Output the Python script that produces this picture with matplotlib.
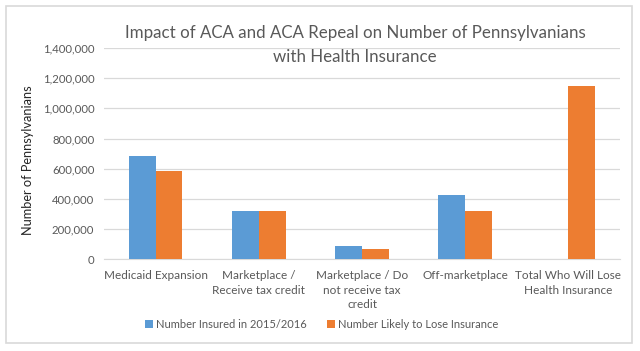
import matplotlib
matplotlib.use("Agg")
import matplotlib.pyplot as plt
from matplotlib.patches import Rectangle
import numpy as np

plt.rcParams["font.family"] = ["Lato", "DejaVu Sans"]

categories = ["Medicaid Expansion", "Marketplace /\nReceive tax credit",
              "Marketplace / Do\nnot receive tax\ncredit", "Off-marketplace",
              "Total Who Will Lose\nHealth Insurance"]
insured = [686000, 322000, 90000, 426000, 0]
likely_lose = [585000, 322000, 68000, 322000, 1146000]
series_names = ["Number Insured in 2015/2016", "Number Likely to Lose Insurance"]
y_ticks = [0, 200000, 400000, 600000, 800000, 1000000, 1200000, 1400000]

BLUE = "#5B9BD5"
ORANGE = "#ED7D31"
GRAY_TXT = "#595959"

fig = plt.figure(figsize=(6.4, 3.51), dpi=100)
ax = fig.add_axes([104 / 640, 1 - 259.3 / 351, (620 - 104) / 640, (259.3 - 47.9) / 351])

# chart frame
fig.patches.append(Rectangle((6 / 640, 1 - 343 / 351), 626 / 640, 337 / 351,
                             transform=fig.transFigure, fill=False,
                             edgecolor="#D9D9D9", linewidth=1.2))

x = np.arange(len(categories))
w = 0.26
ax.bar(x - w / 2, insured, w, color=BLUE, label=series_names[0], zorder=3)
ax.bar(x + w / 2, likely_lose, w, color=ORANGE, label=series_names[1], zorder=3)

ax.set_xlim(-0.5, len(categories) - 0.5)
ax.set_ylim(0, 1400000)
ax.set_yticks(y_ticks)
ax.set_yticklabels([f"{v:,}" for v in y_ticks], fontsize=8.2, color=GRAY_TXT)
ax.set_xticks(x)
ax.set_xticklabels(categories, fontsize=8.5, color=GRAY_TXT, linespacing=1.35)
ax.tick_params(axis="both", length=0, pad=7)
ax.tick_params(axis="x", pad=8)
ax.grid(axis="y", color="#D9D9D9", linewidth=0.9, zorder=0)
for s in ["top", "right", "left"]:
    ax.spines[s].set_visible(False)
ax.spines["bottom"].set_color("#D9D9D9")

fig.text(28 / 640, 1 - 160 / 351, "Number of Pennsylvanians", rotation=90,
         ha="center", va="center", fontsize=9.2, color="#262626")

fig.text(355 / 640, 1 - 33 / 351, "Impact of ACA and ACA Repeal on Number of Pennsylvanians",
         ha="center", va="center", fontsize=12.2, color="#595959")
fig.text(355 / 640, 1 - 57 / 351, "with Health Insurance",
         ha="center", va="center", fontsize=12.2, color="#595959")

fig.legend(loc="center", bbox_to_anchor=(322 / 640, 1 - 324 / 351), ncol=2,
           frameon=False, fontsize=8, handlelength=0.7, handleheight=0.7,
           handletextpad=0.3, columnspacing=1.8, labelcolor=GRAY_TXT)

fig.savefig("out.png", dpi=100, facecolor="white")
